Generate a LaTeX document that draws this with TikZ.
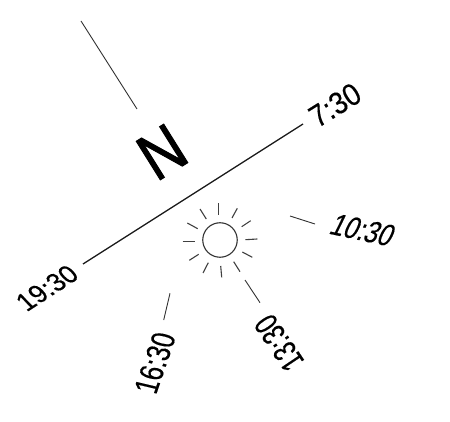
\documentclass[tikz,border=0pt]{standalone}
\usepackage{fontspec}
\setmainfont{Liberation Sans}
\newfontfamily\lblfont[FakeBold=0.3]{Liberation Sans}
\newfontfamily\northfont[FakeBold=1.6]{Liberation Sans}
\tikzset{
  lbl/.style={inner sep=0pt,text=black},
  ln/.style={line width=0.9pt,black!80},
  ray/.style={line width=1.1pt,black!75},
}
\newcommand{\fsz}[1]{\lblfont\fontsize{#1}{#1}\selectfont}
\begin{document}
\begin{tikzpicture}[x=1pt,y=-1pt]
\useasboundingbox[fill=white] (0,0) rectangle (450,422);
\coordinate (n1) at (81,21); \coordinate (n2) at (137,109);
\draw[ln] (n1) -- (n2);
\coordinate (m1) at (83,264); \coordinate (m2) at (303,124);
\draw[line width=1.3pt,black!90] (m1) -- (m2);
\node[inner sep=0pt,rotate=32,xscale=.88,font=\northfont\fontsize{66}{66}\selectfont] (north) at (162,152) {N};
\node[lbl,rotate=32,xscale=.9,font=\fsz{31}] (t730) at (335,105) {7:30};
\node[lbl,rotate=33,xslant=-.2,xscale=.95,font=\fsz{27}] (t1930) at (47,288) {19:30};
\node[lbl,rotate=-12,xslant=.25,xscale=.8,font=\fsz{31}] (t1030) at (363,230) {10:30};
\node[lbl,rotate=71,xslant=-.1,xscale=.76,font=\fsz{33}] (t1630) at (155,363) {16:30};
\node[lbl,rotate=124,xscale=.72,font=\fsz{33}] (t1330) at (279,343) {13:30};
\node[circle,draw,line width=1.1pt,black!80,minimum size=34.5pt,inner sep=0pt] (sun) at (220,240) {};
\coordinate (a1) at (290,216); \coordinate (a2) at (315,224); \draw[ln] (a1) -- (a2);
\coordinate (b1) at (170,293.3); \coordinate (b2) at (163.7,320); \draw[ln] (b1) -- (b2);
\coordinate (c1) at (245,280); \coordinate (c2) at (260,302.7); \draw[ln] (c1) -- (c2);
\foreach \xa/\ya/\xb/\yb in {218.3/203.3/218.3/215, 237.3/208.3/232/218, 250.7/220.7/241.7/226.7, 257.3/239/245.3/239.7, 252.3/257.3/242.3/252, 240/271.7/233.7/261.7, 221.7/277.3/220.7/266, 203/273/208.3/262.7, 189.3/260.3/198.7/254.3, 182.7/241.7/194.7/241.7, 187.3/223/197.7/228.7, 200/209/206.3/219}
  \draw[ray] (\xa,\ya) -- (\xb,\yb);
\end{tikzpicture}
\end{document}
